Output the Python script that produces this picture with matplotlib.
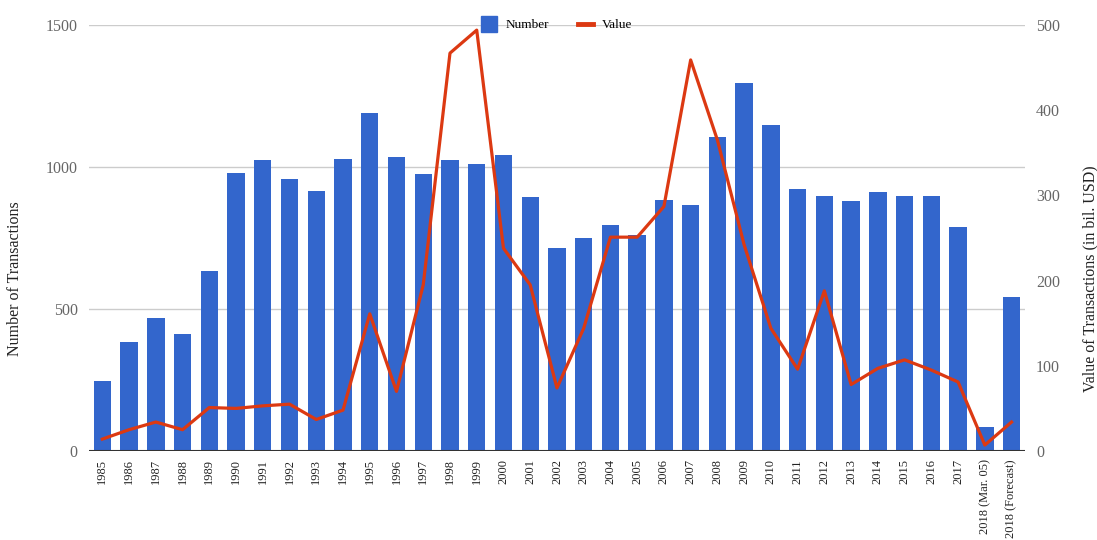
import numpy as np
import matplotlib
matplotlib.use("Agg")
import matplotlib.pyplot as plt
from matplotlib.lines import Line2D

plt.rcParams["font.family"] = ["Liberation Serif", "DejaVu Serif"]

# data
years = [str(y) for y in range(1985, 2018)] + ["2018 (Mar. 05)", "2018 (Forecast)"]
number = [245, 385, 468, 412, 634, 979, 1025, 958, 915, 1028,
          1190, 1035, 975, 1025, 1012, 1041, 894, 715, 749, 796,
          762, 885, 866, 1107, 1295, 1149, 922, 898, 880, 912,
          898, 898, 789, 86, 543]
value = [14, 25, 34, 25, 51, 50, 53, 55, 37, 48,
         161, 70, 195, 467, 494, 238, 195, 74, 144, 251,
         251, 287, 459, 365, 242, 144, 96, 188, 78, 97,
         107, 95, 81, 7, 34]

bar_color = "#3366cc"
line_color = "#dc3912"
tick_grey = "#666666"

fig = plt.figure(figsize=(10.97, 5.4), dpi=100)
ax = fig.add_axes([0.0811, 0.1648, 0.8532, 0.7889])
ax2 = ax.twinx()

x = np.arange(len(years))
ax.bar(x, number, width=0.65, color=bar_color, zorder=2)
ax2.plot(x, value, color=line_color, linewidth=2.3, zorder=3)

ax.set_xlim(-0.5, len(years) - 0.5)
ax.set_ylim(0, 1500)
ax2.set_ylim(0, 500)

ax.set_yticks([0, 500, 1000, 1500])
ax2.set_yticks([0, 100, 200, 300, 400, 500])
ax.yaxis.grid(True, color="#cccccc", linewidth=1.0, zorder=0)
ax.set_axisbelow(True)

ax.set_xticks(x)
ax.set_xticklabels(years, rotation=90, fontsize=9, color="#222222")
ax.tick_params(axis="x", length=0, pad=6)
ax.tick_params(axis="y", length=0, labelsize=11.5, labelcolor=tick_grey, pad=8)
ax2.tick_params(axis="y", length=0, labelsize=11.5, labelcolor=tick_grey, pad=8)

for a in (ax, ax2):
    for s in ("top", "left", "right", "bottom"):
        a.spines[s].set_visible(False)
ax.axhline(0, color="#333333", linewidth=1.5, zorder=4)

ax.set_ylabel("Number of Transactions", fontsize=11.5, color="#222222")
ax2.set_ylabel("Value of Transactions (in bil. USD)", fontsize=11.5,
               color="#222222")
# titles sit a bit below the plot's middle, as in the reference
ax.yaxis.set_label_coords(-0.071, 0.405)
ax2.yaxis.set_label_coords(1.061, 0.405)

handles = [
    Line2D([], [], marker="s", linestyle="none", markersize=11,
           markerfacecolor=bar_color, markeredgecolor=bar_color),
    Line2D([], [], color=line_color, linewidth=3.5),
]
leg = ax.legend(handles, ["Number", "Value"], loc="center",
                bbox_to_anchor=(0.5, 1.0), ncol=2, frameon=False,
                fontsize=9.5, handlelength=1.1, columnspacing=2.2,
                handletextpad=0.7)

fig.savefig("out.png", dpi=100)
